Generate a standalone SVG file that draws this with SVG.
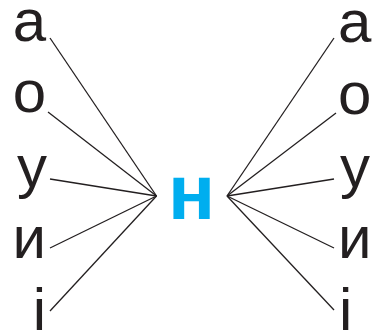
<svg xmlns="http://www.w3.org/2000/svg" width="374" height="336" viewBox="0 0 374 336">
<style>
.l{font-family:"Liberation Sans",Arial,sans-serif;font-size:60px;fill:#231f20}
.c{font-family:"Liberation Sans",Arial,sans-serif;font-size:78px;font-weight:bold;fill:#00aeef}
.k{stroke:#231f20;stroke-width:1.3;fill:none}
</style>
<rect width="374" height="336" fill="#fff"/>
<g id="connectors">
<line class="k" x1="50" y1="38" x2="156.5" y2="196"/>
<line class="k" x1="48" y1="112" x2="156.5" y2="196"/>
<line class="k" x1="50" y1="179" x2="156.5" y2="196"/>
<line class="k" x1="50" y1="248" x2="156.5" y2="196"/>
<line class="k" x1="50" y1="311" x2="156.5" y2="196"/>
<line class="k" x1="334" y1="38" x2="227" y2="196"/>
<line class="k" x1="336" y1="113" x2="227" y2="196"/>
<line class="k" x1="334" y1="179" x2="227" y2="196"/>
<line class="k" x1="334" y1="248" x2="227" y2="196"/>
<line class="k" x1="334" y1="310" x2="227" y2="196"/>
</g>
<g id="center"><text class="c" x="191.5" y="219" text-anchor="middle">н</text></g>
<g id="left-a"><text class="l" x="46" y="41" text-anchor="end">а</text></g>
<g id="left-o"><text class="l" x="46" y="112" text-anchor="end">о</text></g>
<g id="left-u"><text class="l" x="47" y="187" text-anchor="end">у</text></g>
<g id="left-y"><text class="l" x="46" y="258" text-anchor="end">и</text></g>
<g id="left-i"><text class="l" x="46" y="330" text-anchor="end">і</text></g>
<g id="right-a"><text class="l" x="338" y="42">а</text></g>
<g id="right-o"><text class="l" x="338" y="114">о</text></g>
<g id="right-u"><text class="l" x="340" y="187">у</text></g>
<g id="right-y"><text class="l" x="338" y="258">и</text></g>
<g id="right-i"><text class="l" x="339" y="330">і</text></g>
</svg>
